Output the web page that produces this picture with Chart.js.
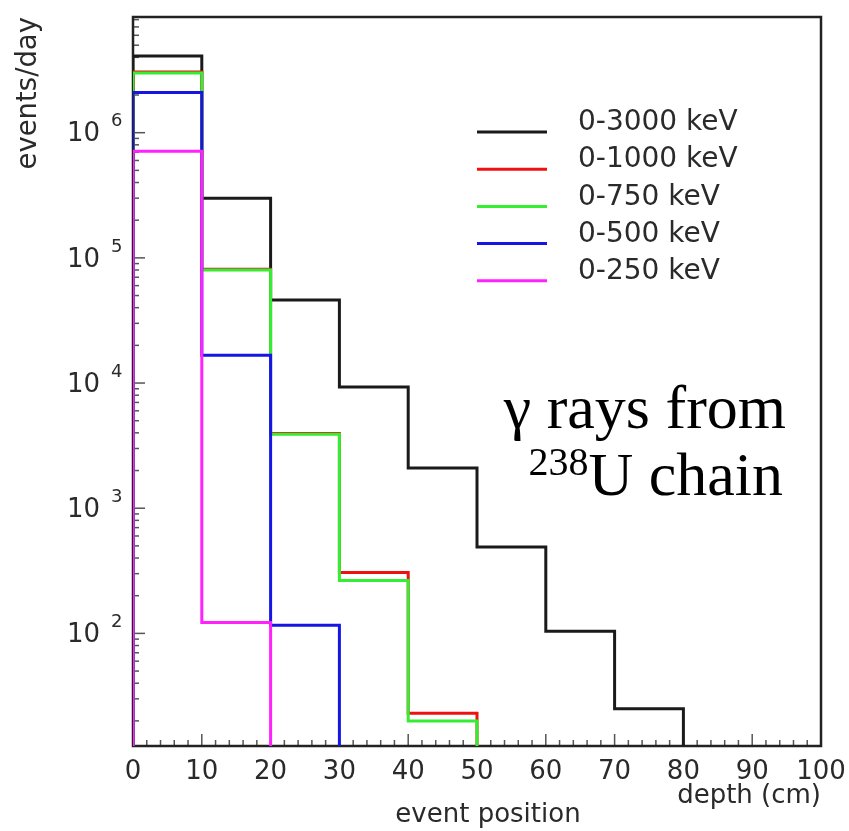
<!DOCTYPE html>
<html>
<head>
<meta charset="utf-8">
<script src="https://cdn.jsdelivr.net/npm/chart.js@4.4.1/dist/chart.umd.min.js"></script>
<style>
  html, body { margin: 0; padding: 0; background: #fff; }
  #wrap { width: 849px; height: 831px; }
</style>
</head>
<body>
<div id="wrap"><canvas id="depth" width="849" height="831"></canvas></div>
<script>
// bin edges in cm, counts per 10 cm bin (events/day)
var binEdges = [0, 10, 20, 30, 40, 50, 60, 70, 80, 90, 100];
var seriesLabels = ["0-3000 keV", "0-1000 keV", "0-750 keV", "0-500 keV", "0-250 keV"];
var counts3000 = [4.1e6, 3.0e5, 4.6e4, 9.3e3, 2.1e3, 490, 104, 25];
var counts1000 = [3.05e6, 8.1e4, 3.95e3, 306, 23];
var counts750 = [3.0e6, 8.0e4, 3.9e3, 264, 20];
var counts500 = [2.09e6, 1.67e4, 116];
var counts250 = [7.1e5, 122];
var lineColors = ["#1a1a1a", "#ee1111", "#33ee33", "#1515e6", "#ff22ff"];
var yDecades = [2, 3, 4, 5, 6];
var xTitle = "depth (cm)";
var xTitle2 = "event position";
var yTitle = "events/day";
var note1 = "\u03b3 rays from";
var noteSup = "238";
var note2 = "U chain";

var FLOOR = 1; // below the axis, gets clipped

function steps(counts) {
  var pts = [{x: binEdges[0], y: FLOOR}];
  counts.forEach(function (c, i) { pts.push({x: binEdges[i], y: c}); });
  pts.push({x: binEdges[counts.length], y: FLOOR});
  return pts;
}

var allCounts = [counts3000, counts1000, counts750, counts500, counts250];
var datasets = allCounts.map(function (c, i) {
  return {
    label: seriesLabels[i],
    data: steps(c),
    borderColor: lineColors[i],
    borderWidth: 3,
    pointRadius: 0,
    stepped: true,
    fill: false,
    order: allCounts.length - i
  };
});

var overlay = {
  id: "overlay",
  beforeDatasetsDraw: function (chart) {
    var ctx = chart.ctx, a = chart.chartArea;
    var xs = chart.scales.x, ys = chart.scales.y;
    ctx.save();
    ctx.strokeStyle = "#555";
    ctx.lineWidth = 1.5;
    // inward ticks on x
    for (var v = 0; v <= 100; v += 2) {
      var px = xs.getPixelForValue(v);
      var len = (v % 10 === 0) ? 12 : 6;
      ctx.beginPath(); ctx.moveTo(px, a.bottom); ctx.lineTo(px, a.bottom - len); ctx.stroke();
    }
    // inward ticks on y (log)
    for (var e = 0; e <= 7; e++) {
      for (var m = 1; m <= 9; m++) {
        var val = m * Math.pow(10, e);
        if (val < ys.min || val > ys.max) continue;
        var py = ys.getPixelForValue(val);
        var l2 = (m === 1) ? 12 : 6;
        ctx.beginPath(); ctx.moveTo(a.left, py); ctx.lineTo(a.left + l2, py); ctx.stroke();
      }
    }
    ctx.strokeStyle = "#222";
    ctx.lineWidth = 2.5;
    ctx.strokeRect(a.left, a.top, a.right - a.left, a.bottom - a.top);
    ctx.restore();
  },
  afterDraw: function (chart) {
    var ctx = chart.ctx, a = chart.chartArea;
    var ys = chart.scales.y;
    ctx.save();
    ctx.fillStyle = "#2a2a2a";
    // y labels 10^n
    yDecades.forEach(function (e) {
      var py = ys.getPixelForValue(Math.pow(10, e));
      ctx.font = '26px "DejaVu Sans"';
      ctx.textAlign = "right"; ctx.textBaseline = "middle";
      ctx.fillText("10", a.left - 33, py + 2);
      ctx.font = '18px "DejaVu Sans"';
      ctx.textAlign = "left";
      ctx.fillText(String(e), a.left - 22, py - 11);
    });
    // axis titles
    ctx.font = '26px "DejaVu Sans"';
    ctx.textAlign = "right"; ctx.textBaseline = "middle";
    ctx.fillText(xTitle, a.right, 796);
    ctx.textAlign = "center";
    ctx.fillText(xTitle2, 488, 815);
    ctx.save();
    ctx.font = '27.5px "DejaVu Sans"';
    ctx.translate(29, a.top);
    ctx.rotate(-Math.PI / 2);
    ctx.textAlign = "right";
    ctx.fillText(yTitle, 0, 0);
    ctx.restore();
    // legend
    ctx.font = '28px "DejaVu Sans"';
    ctx.textAlign = "left"; ctx.textBaseline = "middle";
    chart.data.datasets.forEach(function (ds, i) {
      var ly = 132 + i * 37.2;
      ctx.strokeStyle = ds.borderColor; ctx.lineWidth = 3;
      ctx.beginPath(); ctx.moveTo(477, ly); ctx.lineTo(547, ly); ctx.stroke();
      ctx.fillStyle = "#2a2a2a";
      ctx.fillText(ds.label, 578, ly - 9);
    });
    // annotation
    ctx.fillStyle = "#000";
    ctx.textBaseline = "alphabetic";
    ctx.textAlign = "right";
    ctx.font = '62px "Liberation Serif"';
    ctx.fillText(note1, 786, 428);
    var w2 = ctx.measureText(note2).width;
    ctx.fillText(note2, 783, 495);
    ctx.font = '40px "Liberation Serif"';
    ctx.fillText(noteSup, 783 - w2, 475);
    ctx.restore();
  }
};

new Chart("depth", {
  type: "line",
  data: { datasets: datasets },
  options: {
    responsive: false,
    animation: false,
    layout: { padding: { left: 0, right: 28, top: 17, bottom: 0 } },
    plugins: { legend: { display: false }, tooltip: { enabled: false } },
    scales: {
      x: {
        type: "linear", min: 0, max: 100,
        grid: { display: false, drawTicks: false },
        border: { display: false },
        ticks: { stepSize: 10, padding: 11, color: "#2a2a2a", font: { family: "DejaVu Sans", size: 26 } },
        afterFit: function (s) { s.height = 85; s.paddingLeft = 0; s.paddingRight = 0; }
      },
      y: {
        type: "logarithmic", min: 12.6, max: 8.4e6,
        grid: { display: false, drawTicks: false },
        border: { display: false },
        ticks: { display: false },
        afterFit: function (s) { s.width = 133; s.paddingTop = 0; s.paddingBottom = 0; }
      }
    }
  },
  plugins: [overlay]
});
</script>
</body>
</html>
